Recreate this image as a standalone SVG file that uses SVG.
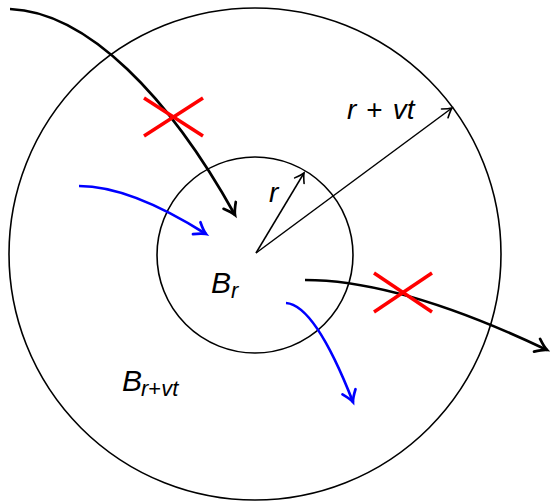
<svg xmlns="http://www.w3.org/2000/svg" width="550" height="502" viewBox="0 0 550 502">
<style>
.circ{fill:none;stroke:#000;stroke-width:1.6}
.rad{fill:none;stroke:#000;stroke-width:1.5}
.thick{fill:none;stroke:#000;stroke-width:2.7}
.blue{fill:none;stroke:#0000ff;stroke-width:2.7}
.cross{fill:none;stroke:#ff0000;stroke-width:3.5}
.lbl{font-family:"Liberation Sans",Arial,sans-serif;font-style:italic;fill:#000}
</style>
<defs>
<marker id="hs" markerUnits="userSpaceOnUse" orient="auto" overflow="visible" markerWidth="10" markerHeight="10" refX="0" refY="0">
<path d="M-9,-5.5 Q-3,-1.2 0,0 Q-3,1.2 -9,5.5" fill="none" stroke="#000" stroke-width="1.6" stroke-linecap="round"/>
</marker>
<marker id="hk" markerUnits="userSpaceOnUse" orient="auto" overflow="visible" markerWidth="14" markerHeight="14" refX="0" refY="0">
<path d="M-11,-7 Q-4,-1.5 0,0 Q-4,1.5 -11,7" fill="none" stroke="#000" stroke-width="2.7" stroke-linecap="round"/>
</marker>
<marker id="hb" markerUnits="userSpaceOnUse" orient="auto" overflow="visible" markerWidth="14" markerHeight="14" refX="0" refY="0">
<path d="M-11,-7 Q-4,-1.5 0,0 Q-4,1.5 -11,7" fill="none" stroke="#0000ff" stroke-width="2.7" stroke-linecap="round"/>
</marker>
</defs>
<g id="outer-ball">
<circle class="circ" cx="255" cy="254" r="246"/>
<text class="lbl" x="122" y="391" font-size="30">B<tspan font-size="22" dy="5" dx="-1">r<tspan font-style="normal">+</tspan>vt</tspan></text>
</g>
<g id="inner-ball">
<circle class="circ" cx="255" cy="255" r="98"/>
<text class="lbl" x="211" y="293" font-size="30">B<tspan font-size="22" dy="5">r</tspan></text>
</g>
<g id="connectors">
<line class="rad" x1="256" y1="253" x2="304" y2="173" marker-end="url(#hs)"/>
<line class="rad" x1="256" y1="253" x2="452" y2="108" marker-end="url(#hs)"/>
<path class="thick" d="M10,9 C88,12 170,98 235,215" marker-end="url(#hk)"/>
<path class="thick" d="M305,280 Q400,280 547,350" marker-end="url(#hk)"/>
<path class="blue" d="M79,186 Q130,186 206,234" marker-end="url(#hb)"/>
<path class="blue" d="M286,303 Q315,305 353,402" marker-end="url(#hb)"/>
</g>
<g id="labels">
<text class="lbl" x="269" y="202" font-size="28">r</text>
<text class="lbl" x="347" y="119" font-size="28">r<tspan font-style="normal" dx="10">+</tspan><tspan dx="10">vt</tspan></text>
</g>
<g id="cross-1">
<line class="cross" x1="144" y1="98" x2="203" y2="136"/>
<line class="cross" x1="144" y1="136" x2="203" y2="98"/>
</g>
<g id="cross-2">
<line class="cross" x1="374" y1="273" x2="432" y2="312"/>
<line class="cross" x1="374" y1="312" x2="432" y2="273"/>
</g>
</svg>
